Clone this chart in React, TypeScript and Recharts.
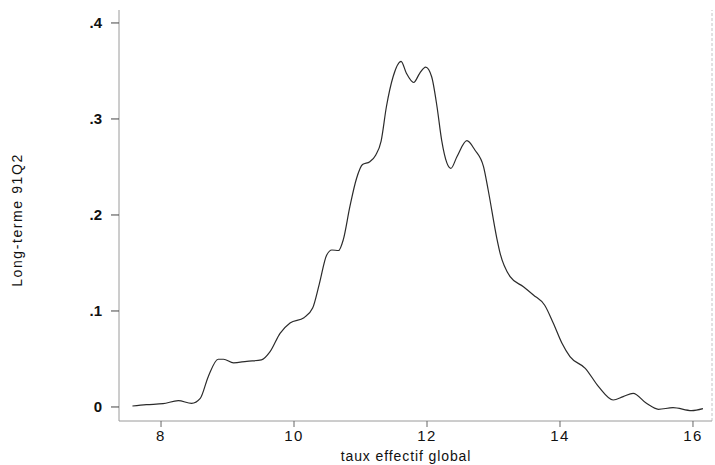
import React from 'react';
import { LineChart, Line, XAxis, YAxis, ReferenceLine } from 'recharts';

// density estimate (x = taux effectif global)
const tauxValues = [
  7.57, 7.78, 8.03, 8.26, 8.46, 8.59, 8.71, 8.86, 8.94, 9.09, 9.29, 9.51, 9.64, 9.79, 9.94,
  10.15, 10.28, 10.38, 10.49, 10.57, 10.67, 10.74, 10.84, 10.94, 11.03, 11.14, 11.23, 11.31,
  11.39, 11.49, 11.61, 11.69, 11.8, 11.89, 11.98, 12.07, 12.15, 12.22, 12.3, 12.36, 12.45,
  12.6, 12.72, 12.85, 12.92, 13.05, 13.1, 13.25, 13.45, 13.6, 13.77, 13.9, 14.03, 14.15,
  14.38, 14.58, 14.8, 14.95, 15.1, 15.3, 15.48, 15.7, 15.98, 16.15,
];
const densityValues = [
  0.001, 0.0024, 0.0034, 0.0066, 0.0038, 0.009, 0.0316, 0.0497, 0.0497, 0.046, 0.0476, 0.049,
  0.0576, 0.0767, 0.0875, 0.093, 0.103, 0.128, 0.158, 0.1635, 0.163, 0.174, 0.2087, 0.238,
  0.2525, 0.2555, 0.2625, 0.277, 0.313, 0.344, 0.36, 0.3476, 0.338, 0.3476, 0.354, 0.344,
  0.313, 0.278, 0.254, 0.2486, 0.2607, 0.2774, 0.2677, 0.2503, 0.226, 0.1757, 0.16, 0.1357,
  0.1253, 0.1167, 0.106, 0.0872, 0.0663, 0.0524, 0.0403, 0.0212, 0.0073, 0.0108, 0.0142,
  0.0038, -0.0024, -0.0007, -0.0038, -0.0017,
];
const xTicks = [8, 10, 12, 14, 16];
const yTicks = [0, 0.1, 0.2, 0.3, 0.4];

const data = tauxValues.map((x, i) => ({ x, y: densityValues[i] }));

const font = '"Liberation Sans", Arial, sans-serif';
const axisColor = '#9a9a9a';

const fmtY = (v: number) => (v === 0 ? '0' : v.toFixed(1).replace(/^0/, ''));

const App: React.FC = () => {
  return (
    <div style={{ position: 'absolute', left: 0, top: 0, width: 715, height: 465, background: '#fff' }}>
      <LineChart width={715} height={465} data={data} margin={{ top: 10, right: 3, bottom: 4, left: 59 }}>
        <XAxis
          dataKey="x"
          type="number"
          domain={[7.368, 16.286]}
          ticks={xTicks}
          allowDataOverflow
          height={40}
          stroke={axisColor}
          tickSize={6}
          tickMargin={3}
          tickLine={{ stroke: '#666' }}
          tick={{ fill: '#111', fontSize: 15, fontFamily: font, letterSpacing: 1.5 }}
          label={{
            content: () => (
              <text x={406} y={461} textAnchor="middle" fill="#111" fontSize={14} fontFamily={font} letterSpacing={0.9}>
                taux effectif global
              </text>
            ),
          }}
        />
        <YAxis
          dataKey="y"
          type="number"
          domain={[-0.0146, 0.4135]}
          ticks={yTicks}
          allowDataOverflow
          width={60}
          stroke={axisColor}
          tickSize={8}
          tickMargin={9}
          tickFormatter={fmtY}
          tickLine={{ stroke: '#444' }}
          tick={{ fill: '#111', fontSize: 15, fontFamily: font, fontWeight: 'bold' }}
          label={{
            content: () => (
              <text
                x={22}
                y={220}
                transform="rotate(-90 22 220)"
                textAnchor="middle"
                fill="#111"
                fontSize={14}
                fontFamily={font}
                letterSpacing={1.6}
              >
                Long-terme 91Q2
              </text>
            ),
          }}
        />
        <ReferenceLine x={16.286} stroke="#c4c4c4" strokeDasharray="3 2" />
        <Line
          type="monotone"
          dataKey="y"
          stroke="#2b2b2b"
          strokeWidth={1.2}
          dot={false}
          isAnimationActive={false}
        />
      </LineChart>
    </div>
  );
};

export default App;
